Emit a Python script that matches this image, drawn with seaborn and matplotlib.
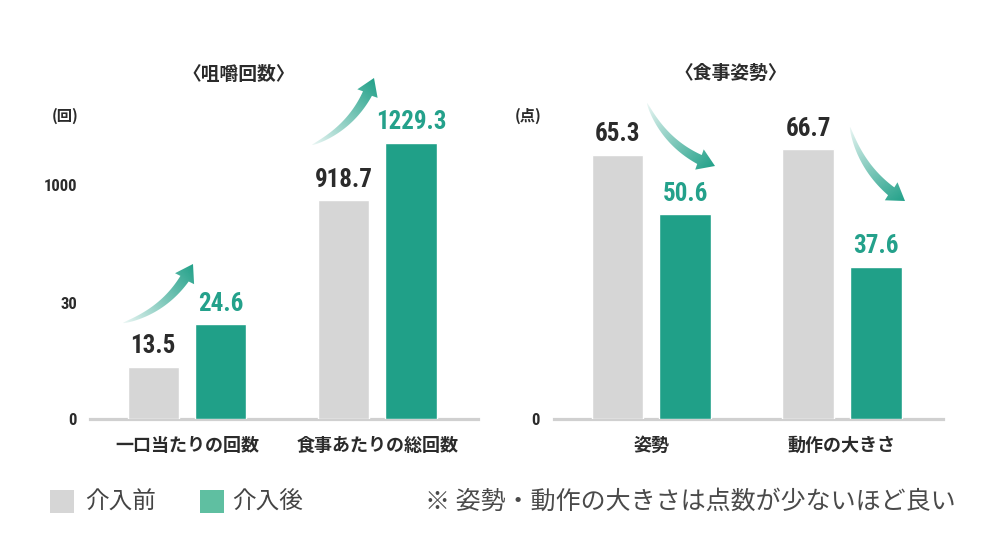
import numpy as np
import pandas as pd
import matplotlib
matplotlib.use('Agg')
import matplotlib.pyplot as plt
from matplotlib import font_manager
from matplotlib.patches import Polygon, Rectangle
import seaborn as sns

# データ
phases = ['介入前', '介入後']
chew_cats = ['一口当たりの回数', '食事あたりの総回数']
chew_before = [13.5, 918.7]
chew_after = [24.6, 1229.3]
chew_ticks = [0, 30, 1000]
posture_cats = ['姿勢', '動作の大きさ']
posture_before = [65.3, 66.7]
posture_after = [50.6, 37.6]
posture_ticks = [0]

GRAY = '#d6d6d6'
TEAL = '#20a088'
TEAL_TXT = '#24a18b'
TEAL_LEG = '#5fbfa1'
DARK = '#2b2b2b'
BASE = '#d0d0d0'

sns.set_style('white')
JP = ['Noto Sans CJK JP', 'DejaVu Sans']
plt.rcParams['font.family'] = JP

# 数字用の細いフォント
names = {f.name for f in font_manager.fontManager.ttflist}
if 'Liberation Sans Narrow' in names:
    NUM = dict(family='Liberation Sans Narrow')
elif 'Roboto Condensed' in names:
    NUM = dict(family='Roboto Condensed')
elif any(f.name == 'DejaVu Sans' and str(f.stretch) == 'condensed' for f in font_manager.fontManager.ttflist):
    NUM = dict(family='DejaVu Sans', stretch='condensed')
else:
    NUM = dict(family='Roboto')

fig = plt.figure(figsize=(9.9, 5.42), dpi=100)
W, H = 990, 542


def frame(df_cats, before, after):
    return pd.DataFrame({
        'cat': df_cats * 2,
        'phase': [phases[0]] * len(before) + [phases[1]] * len(after),
        'val': list(before) + list(after),
    })


def panel(rect, df, ticks, ylim, scale=None, ypad=9.5):
    ax = fig.add_axes(rect)
    sns.barplot(data=df, x='cat', y='val', hue='phase', hue_order=phases,
                palette=[GRAY, TEAL], width=0.71, gap=0.24, saturation=1,
                errorbar=None, legend=False, ax=ax, zorder=2)
    if scale is not None:
        ax.set_yscale('function', functions=scale)
    ax.set_ylim(ylim)
    ax.set_xlim(-0.51, 1.53)
    ax.set_xlabel('')
    ax.set_ylabel('')
    ax.set_yticks(ticks)
    ax.set_yticklabels([str(t) for t in ticks])
    for t in ax.get_yticklabels():
        t.set_fontfamily(NUM['family'])
        if 'stretch' in NUM:
            t.set_fontstretch(NUM['stretch'])
        t.set_fontsize(12)
        t.set_fontweight('bold')
        t.set_color(DARK)
    for t in ax.get_xticklabels():
        t.set_fontsize(13)
        t.set_fontweight('bold')
        t.set_color(DARK)
    ax.tick_params(axis='y', length=0, pad=ypad)
    ax.tick_params(axis='x', length=0, pad=12)
    ax.yaxis.set_minor_locator(matplotlib.ticker.NullLocator())
    for s in ['left', 'right', 'top']:
        ax.spines[s].set_visible(False)
    ax.spines['bottom'].set_color(BASE)
    ax.spines['bottom'].set_linewidth(2.3)
    ax.spines['bottom'].set_zorder(1)
    for cont, col in zip(ax.containers, [DARK, TEAL_TXT]):
        ax.bar_label(cont, fmt='%.1f', padding=6, color=col, fontsize=18,
                     fontweight='bold', **NUM)
    return ax


# 咀嚼回数は省略軸 (0-30 を拡大)
knots_d = np.array([-1e6, 0, 30, 900, 1300, 1e7])
knots_h = np.array([-1e6 * 3.87, 0, 116, 215.6, 289.2, 289.2 + (1e7 - 1300) * 0.184])


def fwd(v):
    return np.interp(v, knots_d, knots_h)


def inv(h):
    return np.interp(h, knots_h, knots_d)


ax1 = panel([90 / W, 123 / H, 388 / W, 289.2 / H], frame(chew_cats, chew_before, chew_after),
            chew_ticks, (0, 1300), scale=(fwd, inv), ypad=9.5)
ax2 = panel([554 / W, 123 / H, 389 / W, 289.2 / H], frame(posture_cats, posture_before, posture_after),
            posture_ticks, (0, 289.2 / 4.05), ypad=10)

# 装飾用のオーバーレイ (ピクセル座標)
ov = fig.add_axes([0, 0, 1, 1], zorder=5)
ov.patch.set_alpha(0)
ov.axis('off')

tcol = dict(fontsize=13.5, fontweight='bold', color=DARK, ha='center', va='center')
ov.text(239, 74, '〈咀嚼回数〉', **tcol)
ov.text(731, 73, '〈食事姿勢〉', **tcol)
ov.text(65, 116, '(回)', fontsize=11, fontweight='bold', color=DARK, ha='center', va='center')
ov.text(528, 116, '(点)', fontsize=11, fontweight='bold', color=DARK, ha='center', va='center')

# 凡例
ov.add_patch(Rectangle((50, 490), 24, 23, color=GRAY, lw=0))
ov.text(85, 502, phases[0], fontsize=17, color='#444444', ha='left', va='center')
ov.add_patch(Rectangle((200, 490), 24, 23, color=TEAL_LEG, lw=0))
ov.text(232, 502, phases[1], fontsize=17, color='#444444', ha='left', va='center')
ov.text(425, 502, '※ 姿勢・動作の大きさは点数が少ないほど良い', fontsize=18,
        color='#4a4a4a', ha='left', va='center')


def grad_arrow(p0, p1, bend, shaft=10, head_w=22, head_l=17):
    p0 = np.array(p0, float)
    p1 = np.array(p1, float)
    d = p1 - p0
    c = (p0 + p1) / 2 + bend * np.array([-d[1], d[0]])
    t = np.linspace(0, 1, 300)[:, None]
    pts = (1 - t) ** 2 * p0 + 2 * (1 - t) * t * c + t ** 2 * p1
    seg = np.r_[0, np.cumsum(np.hypot(*np.diff(pts, axis=0).T))]
    bi = np.searchsorted(seg, seg[-1] - head_l)
    sh = pts[:bi + 1]
    tan = np.gradient(sh, axis=0)
    tan /= np.hypot(tan[:, 0], tan[:, 1])[:, None]
    nrm = np.c_[-tan[:, 1], tan[:, 0]]
    w = shaft / 2 * (seg[:bi + 1] / seg[bi]) ** 0.6
    left = sh + nrm * w[:, None]
    right = sh - nrm * w[:, None]
    b = sh[-1]
    tb = (p1 - b) / np.hypot(*(p1 - b))
    nb = np.array([-tb[1], tb[0]])
    poly = np.vstack([left, b + nb * head_w / 2, p1, b - nb * head_w / 2, right[::-1]])
    clip = Polygon(poly, closed=True, fc='none', ec='none')
    ov.add_patch(clip)
    x0, y0 = poly.min(axis=0) - 2
    x1, y1 = poly.max(axis=0) + 2
    X, Y = np.meshgrid(np.linspace(x0, x1, 200), np.linspace(y0, y1, 200))
    L2 = d @ d
    g = np.clip(((X - p0[0]) * d[0] + (Y - p0[1]) * d[1]) / L2, 0, 1)
    rgba = np.zeros(X.shape + (4,))
    rgba[..., :3] = matplotlib.colors.to_rgb(TEAL)
    rgba[..., 3] = 0.08 + 0.92 * g ** 0.9
    im = ov.imshow(rgba, extent=(x0, x1, y1, y0), origin='upper', aspect='auto',
                   interpolation='bilinear', zorder=3)
    im.set_clip_path(clip)


grad_arrow((123, 323), (193, 264), 0.22)
grad_arrow((312, 145), (374, 78), 0.22)
grad_arrow((647, 103), (715, 166), 0.22)
grad_arrow((850, 127), (905, 201), 0.2)

ov.set_xlim(0, W)
ov.set_ylim(H, 0)

fig.savefig('out.png', dpi=100, facecolor='white')
